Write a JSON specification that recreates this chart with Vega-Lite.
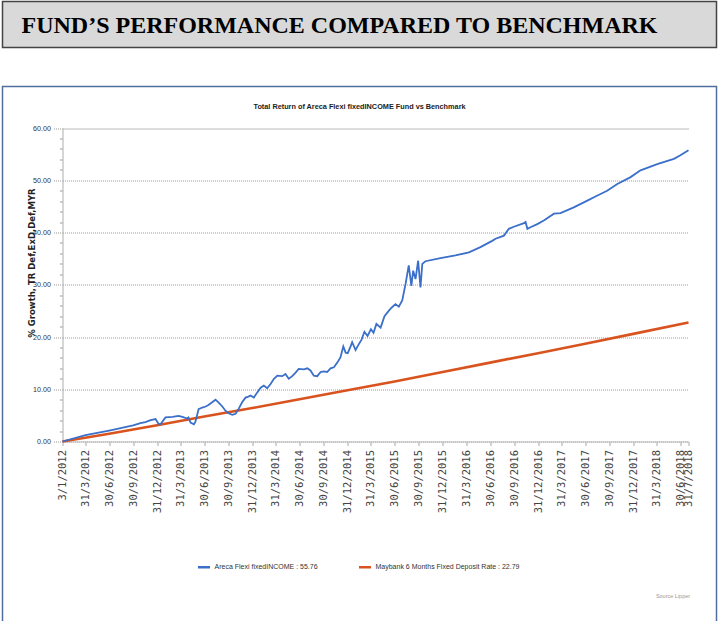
{
  "$schema": "https://vega.github.io/schema/vega-lite/v6.json",
  "background": "white",
  "padding": {"left": 1.5, "top": 0.5, "right": 0, "bottom": 0},
  "spacing": 37,
  "vconcat": [
    {
      "width": 714,
      "height": 46,
      "view": {"fill": "#d9d9d9", "stroke": "#444444", "strokeWidth": 1.5},
      "data": {"values": [{"heading": "FUND’S PERFORMANCE COMPARED TO BENCHMARK"}]},
      "mark": {"type": "text", "font": "Liberation Serif", "fontWeight": "bold", "fontSize": 24, "color": "#000000", "dx": -20, "dy": 1},
      "encoding": {"text": {"field": "heading", "type": "nominal"}}
    },
    {
      "width": 714,
      "height": 545,
      "view": {"fill": "white", "stroke": "#4f6fa0", "strokeWidth": 1.5},
      "title": {
        "text": "Total Return of Areca Flexi fixedINCOME Fund vs Benchmark",
        "offset": -30,
        "baseline": "alphabetic",
        "anchor": "middle",
        "frame": "group",
        "font": "Liberation Sans",
        "fontSize": 7.3,
        "fontWeight": "bold",
        "color": "#222222"
      },
      "data": {
        "values": [
          {"date": "2012-01-03", "value": 0, "series": "Maybank 6 Months Fixed Deposit Rate : 22.79"},
          {"date": "2012-06-30", "value": 1.5, "series": "Maybank 6 Months Fixed Deposit Rate : 22.79"},
          {"date": "2012-12-31", "value": 3.1, "series": "Maybank 6 Months Fixed Deposit Rate : 22.79"},
          {"date": "2013-06-30", "value": 4.8, "series": "Maybank 6 Months Fixed Deposit Rate : 22.79"},
          {"date": "2013-12-31", "value": 6.4, "series": "Maybank 6 Months Fixed Deposit Rate : 22.79"},
          {"date": "2014-06-30", "value": 8.1, "series": "Maybank 6 Months Fixed Deposit Rate : 22.79"},
          {"date": "2014-12-31", "value": 9.8, "series": "Maybank 6 Months Fixed Deposit Rate : 22.79"},
          {"date": "2015-06-30", "value": 11.5, "series": "Maybank 6 Months Fixed Deposit Rate : 22.79"},
          {"date": "2015-12-31", "value": 13.3, "series": "Maybank 6 Months Fixed Deposit Rate : 22.79"},
          {"date": "2016-06-30", "value": 15.1, "series": "Maybank 6 Months Fixed Deposit Rate : 22.79"},
          {"date": "2016-12-31", "value": 16.9, "series": "Maybank 6 Months Fixed Deposit Rate : 22.79"},
          {"date": "2017-06-30", "value": 18.7, "series": "Maybank 6 Months Fixed Deposit Rate : 22.79"},
          {"date": "2017-12-31", "value": 20.6, "series": "Maybank 6 Months Fixed Deposit Rate : 22.79"},
          {"date": "2018-07-31", "value": 22.79, "series": "Maybank 6 Months Fixed Deposit Rate : 22.79"},
          {"date": "2012-01-03", "value": 0, "series": "Areca Flexi fixedINCOME : 55.76"},
          {"date": "2012-03-31", "value": 1.2, "series": "Areca Flexi fixedINCOME : 55.76"},
          {"date": "2012-06-30", "value": 2.1, "series": "Areca Flexi fixedINCOME : 55.76"},
          {"date": "2012-09-30", "value": 3.1, "series": "Areca Flexi fixedINCOME : 55.76"},
          {"date": "2012-10-28", "value": 3.5, "series": "Areca Flexi fixedINCOME : 55.76"},
          {"date": "2012-11-16", "value": 3.7, "series": "Areca Flexi fixedINCOME : 55.76"},
          {"date": "2012-12-06", "value": 4.1, "series": "Areca Flexi fixedINCOME : 55.76"},
          {"date": "2012-12-25", "value": 4.3, "series": "Areca Flexi fixedINCOME : 55.76"},
          {"date": "2013-01-05", "value": 3.4, "series": "Areca Flexi fixedINCOME : 55.76"},
          {"date": "2013-01-13", "value": 3.3, "series": "Areca Flexi fixedINCOME : 55.76"},
          {"date": "2013-02-01", "value": 4.6, "series": "Areca Flexi fixedINCOME : 55.76"},
          {"date": "2013-02-28", "value": 4.7, "series": "Areca Flexi fixedINCOME : 55.76"},
          {"date": "2013-03-23", "value": 4.9, "series": "Areca Flexi fixedINCOME : 55.76"},
          {"date": "2013-04-07", "value": 4.7, "series": "Areca Flexi fixedINCOME : 55.76"},
          {"date": "2013-04-25", "value": 4.4, "series": "Areca Flexi fixedINCOME : 55.76"},
          {"date": "2013-04-30", "value": 4.6, "series": "Areca Flexi fixedINCOME : 55.76"},
          {"date": "2013-05-08", "value": 3.6, "series": "Areca Flexi fixedINCOME : 55.76"},
          {"date": "2013-05-21", "value": 3.3, "series": "Areca Flexi fixedINCOME : 55.76"},
          {"date": "2013-05-27", "value": 3.8, "series": "Areca Flexi fixedINCOME : 55.76"},
          {"date": "2013-06-08", "value": 6.2, "series": "Areca Flexi fixedINCOME : 55.76"},
          {"date": "2013-06-22", "value": 6.5, "series": "Areca Flexi fixedINCOME : 55.76"},
          {"date": "2013-07-05", "value": 6.7, "series": "Areca Flexi fixedINCOME : 55.76"},
          {"date": "2013-07-16", "value": 7.0, "series": "Areca Flexi fixedINCOME : 55.76"},
          {"date": "2013-07-30", "value": 7.5, "series": "Areca Flexi fixedINCOME : 55.76"},
          {"date": "2013-08-12", "value": 8.0, "series": "Areca Flexi fixedINCOME : 55.76"},
          {"date": "2013-08-23", "value": 7.5, "series": "Areca Flexi fixedINCOME : 55.76"},
          {"date": "2013-09-07", "value": 6.7, "series": "Areca Flexi fixedINCOME : 55.76"},
          {"date": "2013-09-19", "value": 5.9, "series": "Areca Flexi fixedINCOME : 55.76"},
          {"date": "2013-10-01", "value": 5.4, "series": "Areca Flexi fixedINCOME : 55.76"},
          {"date": "2013-10-15", "value": 5.1, "series": "Areca Flexi fixedINCOME : 55.76"},
          {"date": "2013-10-28", "value": 5.3, "series": "Areca Flexi fixedINCOME : 55.76"},
          {"date": "2013-11-08", "value": 6.2, "series": "Areca Flexi fixedINCOME : 55.76"},
          {"date": "2013-11-22", "value": 7.5, "series": "Areca Flexi fixedINCOME : 55.76"},
          {"date": "2013-12-05", "value": 8.4, "series": "Areca Flexi fixedINCOME : 55.76"},
          {"date": "2013-12-16", "value": 8.6, "series": "Areca Flexi fixedINCOME : 55.76"},
          {"date": "2013-12-24", "value": 8.8, "series": "Areca Flexi fixedINCOME : 55.76"},
          {"date": "2014-01-06", "value": 8.4, "series": "Areca Flexi fixedINCOME : 55.76"},
          {"date": "2014-01-19", "value": 9.4, "series": "Areca Flexi fixedINCOME : 55.76"},
          {"date": "2014-02-01", "value": 10.3, "series": "Areca Flexi fixedINCOME : 55.76"},
          {"date": "2014-02-13", "value": 10.7, "series": "Areca Flexi fixedINCOME : 55.76"},
          {"date": "2014-02-26", "value": 10.2, "series": "Areca Flexi fixedINCOME : 55.76"},
          {"date": "2014-03-11", "value": 11.0, "series": "Areca Flexi fixedINCOME : 55.76"},
          {"date": "2014-03-24", "value": 12.0, "series": "Areca Flexi fixedINCOME : 55.76"},
          {"date": "2014-04-06", "value": 12.6, "series": "Areca Flexi fixedINCOME : 55.76"},
          {"date": "2014-04-25", "value": 12.5, "series": "Areca Flexi fixedINCOME : 55.76"},
          {"date": "2014-05-07", "value": 12.9, "series": "Areca Flexi fixedINCOME : 55.76"},
          {"date": "2014-05-20", "value": 12.0, "series": "Areca Flexi fixedINCOME : 55.76"},
          {"date": "2014-06-02", "value": 12.5, "series": "Areca Flexi fixedINCOME : 55.76"},
          {"date": "2014-06-15", "value": 13.2, "series": "Areca Flexi fixedINCOME : 55.76"},
          {"date": "2014-06-27", "value": 13.9, "series": "Areca Flexi fixedINCOME : 55.76"},
          {"date": "2014-07-17", "value": 13.8, "series": "Areca Flexi fixedINCOME : 55.76"},
          {"date": "2014-07-30", "value": 14.0, "series": "Areca Flexi fixedINCOME : 55.76"},
          {"date": "2014-08-11", "value": 13.6, "series": "Areca Flexi fixedINCOME : 55.76"},
          {"date": "2014-08-24", "value": 12.6, "series": "Areca Flexi fixedINCOME : 55.76"},
          {"date": "2014-09-06", "value": 12.5, "series": "Areca Flexi fixedINCOME : 55.76"},
          {"date": "2014-09-19", "value": 13.3, "series": "Areca Flexi fixedINCOME : 55.76"},
          {"date": "2014-10-01", "value": 13.4, "series": "Areca Flexi fixedINCOME : 55.76"},
          {"date": "2014-10-14", "value": 13.3, "series": "Areca Flexi fixedINCOME : 55.76"},
          {"date": "2014-10-27", "value": 14.0, "series": "Areca Flexi fixedINCOME : 55.76"},
          {"date": "2014-11-09", "value": 14.2, "series": "Areca Flexi fixedINCOME : 55.76"},
          {"date": "2014-11-22", "value": 15.1, "series": "Areca Flexi fixedINCOME : 55.76"},
          {"date": "2014-12-04", "value": 16.1, "series": "Areca Flexi fixedINCOME : 55.76"},
          {"date": "2014-12-15", "value": 18.2, "series": "Areca Flexi fixedINCOME : 55.76"},
          {"date": "2014-12-24", "value": 17.0, "series": "Areca Flexi fixedINCOME : 55.76"},
          {"date": "2015-01-01", "value": 16.9, "series": "Areca Flexi fixedINCOME : 55.76"},
          {"date": "2015-01-12", "value": 18.2, "series": "Areca Flexi fixedINCOME : 55.76"},
          {"date": "2015-01-18", "value": 19.0, "series": "Areca Flexi fixedINCOME : 55.76"},
          {"date": "2015-01-31", "value": 17.5, "series": "Areca Flexi fixedINCOME : 55.76"},
          {"date": "2015-02-11", "value": 18.5, "series": "Areca Flexi fixedINCOME : 55.76"},
          {"date": "2015-02-23", "value": 19.5, "series": "Areca Flexi fixedINCOME : 55.76"},
          {"date": "2015-03-06", "value": 21.0, "series": "Areca Flexi fixedINCOME : 55.76"},
          {"date": "2015-03-18", "value": 20.2, "series": "Areca Flexi fixedINCOME : 55.76"},
          {"date": "2015-03-31", "value": 21.5, "series": "Areca Flexi fixedINCOME : 55.76"},
          {"date": "2015-04-10", "value": 20.8, "series": "Areca Flexi fixedINCOME : 55.76"},
          {"date": "2015-04-21", "value": 22.5, "series": "Areca Flexi fixedINCOME : 55.76"},
          {"date": "2015-05-07", "value": 21.8, "series": "Areca Flexi fixedINCOME : 55.76"},
          {"date": "2015-05-22", "value": 24.0, "series": "Areca Flexi fixedINCOME : 55.76"},
          {"date": "2015-06-07", "value": 25.0, "series": "Areca Flexi fixedINCOME : 55.76"},
          {"date": "2015-06-18", "value": 25.6, "series": "Areca Flexi fixedINCOME : 55.76"},
          {"date": "2015-07-03", "value": 26.3, "series": "Areca Flexi fixedINCOME : 55.76"},
          {"date": "2015-07-16", "value": 25.8, "series": "Areca Flexi fixedINCOME : 55.76"},
          {"date": "2015-07-29", "value": 27.0, "series": "Areca Flexi fixedINCOME : 55.76"},
          {"date": "2015-08-11", "value": 30.2, "series": "Areca Flexi fixedINCOME : 55.76"},
          {"date": "2015-08-23", "value": 33.7, "series": "Areca Flexi fixedINCOME : 55.76"},
          {"date": "2015-09-02", "value": 29.8, "series": "Areca Flexi fixedINCOME : 55.76"},
          {"date": "2015-09-09", "value": 32.7, "series": "Areca Flexi fixedINCOME : 55.76"},
          {"date": "2015-09-18", "value": 31.1, "series": "Areca Flexi fixedINCOME : 55.76"},
          {"date": "2015-09-28", "value": 34.6, "series": "Areca Flexi fixedINCOME : 55.76"},
          {"date": "2015-10-07", "value": 29.5, "series": "Areca Flexi fixedINCOME : 55.76"},
          {"date": "2015-10-14", "value": 34.0, "series": "Areca Flexi fixedINCOME : 55.76"},
          {"date": "2015-10-26", "value": 34.5, "series": "Areca Flexi fixedINCOME : 55.76"},
          {"date": "2015-12-23", "value": 35.1, "series": "Areca Flexi fixedINCOME : 55.76"},
          {"date": "2016-02-18", "value": 35.6, "series": "Areca Flexi fixedINCOME : 55.76"},
          {"date": "2016-04-10", "value": 36.2, "series": "Areca Flexi fixedINCOME : 55.76"},
          {"date": "2016-05-24", "value": 37.2, "series": "Areca Flexi fixedINCOME : 55.76"},
          {"date": "2016-07-08", "value": 38.4, "series": "Areca Flexi fixedINCOME : 55.76"},
          {"date": "2016-07-21", "value": 38.8, "series": "Areca Flexi fixedINCOME : 55.76"},
          {"date": "2016-08-22", "value": 39.4, "series": "Areca Flexi fixedINCOME : 55.76"},
          {"date": "2016-09-10", "value": 40.7, "series": "Areca Flexi fixedINCOME : 55.76"},
          {"date": "2016-09-29", "value": 41.1, "series": "Areca Flexi fixedINCOME : 55.76"},
          {"date": "2016-11-07", "value": 41.8, "series": "Areca Flexi fixedINCOME : 55.76"},
          {"date": "2016-11-13", "value": 42.0, "series": "Areca Flexi fixedINCOME : 55.76"},
          {"date": "2016-11-20", "value": 40.7, "series": "Areca Flexi fixedINCOME : 55.76"},
          {"date": "2016-12-02", "value": 41.0, "series": "Areca Flexi fixedINCOME : 55.76"},
          {"date": "2016-12-28", "value": 41.6, "series": "Areca Flexi fixedINCOME : 55.76"},
          {"date": "2017-01-22", "value": 42.3, "series": "Areca Flexi fixedINCOME : 55.76"},
          {"date": "2017-03-02", "value": 43.6, "series": "Areca Flexi fixedINCOME : 55.76"},
          {"date": "2017-03-27", "value": 43.7, "series": "Areca Flexi fixedINCOME : 55.76"},
          {"date": "2017-05-17", "value": 44.8, "series": "Areca Flexi fixedINCOME : 55.76"},
          {"date": "2017-07-08", "value": 46.1, "series": "Areca Flexi fixedINCOME : 55.76"},
          {"date": "2017-08-12", "value": 47.0, "series": "Areca Flexi fixedINCOME : 55.76"},
          {"date": "2017-09-22", "value": 48.0, "series": "Areca Flexi fixedINCOME : 55.76"},
          {"date": "2017-10-31", "value": 49.3, "series": "Areca Flexi fixedINCOME : 55.76"},
          {"date": "2017-12-21", "value": 50.6, "series": "Areca Flexi fixedINCOME : 55.76"},
          {"date": "2018-01-28", "value": 51.9, "series": "Areca Flexi fixedINCOME : 55.76"},
          {"date": "2018-04-02", "value": 53.1, "series": "Areca Flexi fixedINCOME : 55.76"},
          {"date": "2018-06-05", "value": 54.1, "series": "Areca Flexi fixedINCOME : 55.76"},
          {"date": "2018-06-30", "value": 54.8, "series": "Areca Flexi fixedINCOME : 55.76"},
          {"date": "2018-07-31", "value": 55.76, "series": "Areca Flexi fixedINCOME : 55.76"}
        ]
      },
      "encoding": {
        "x": {
          "field": "date",
          "type": "temporal",
          "scale": {
            "type": "utc",
            "domain": [{"year": 2012, "month": 1, "date": 3, "utc": true}, {"year": 2018, "month": 7, "date": 31, "utc": true}],
            "range": [60, 686],
            "nice": false
          },
          "axis": {
            "title": "Source Lipper",
            "titleX": 670,
            "titleY": 154,
            "titleAlign": "center",
            "titleBaseline": "middle",
            "titleFont": "Liberation Sans",
            "titleFontSize": 5.5,
            "titleFontWeight": "normal",
            "titleColor": "#999999",
            "offset": -190,
            "values": [
              {"year": 2012, "month": 1, "date": 3, "utc": true},
              {"year": 2012, "month": 3, "date": 31, "utc": true},
              {"year": 2012, "month": 6, "date": 30, "utc": true},
              {"year": 2012, "month": 9, "date": 30, "utc": true},
              {"year": 2012, "month": 12, "date": 31, "utc": true},
              {"year": 2013, "month": 3, "date": 31, "utc": true},
              {"year": 2013, "month": 6, "date": 30, "utc": true},
              {"year": 2013, "month": 9, "date": 30, "utc": true},
              {"year": 2013, "month": 12, "date": 31, "utc": true},
              {"year": 2014, "month": 3, "date": 31, "utc": true},
              {"year": 2014, "month": 6, "date": 30, "utc": true},
              {"year": 2014, "month": 9, "date": 30, "utc": true},
              {"year": 2014, "month": 12, "date": 31, "utc": true},
              {"year": 2015, "month": 3, "date": 31, "utc": true},
              {"year": 2015, "month": 6, "date": 30, "utc": true},
              {"year": 2015, "month": 9, "date": 30, "utc": true},
              {"year": 2015, "month": 12, "date": 31, "utc": true},
              {"year": 2016, "month": 3, "date": 31, "utc": true},
              {"year": 2016, "month": 6, "date": 30, "utc": true},
              {"year": 2016, "month": 9, "date": 30, "utc": true},
              {"year": 2016, "month": 12, "date": 31, "utc": true},
              {"year": 2017, "month": 3, "date": 31, "utc": true},
              {"year": 2017, "month": 6, "date": 30, "utc": true},
              {"year": 2017, "month": 9, "date": 30, "utc": true},
              {"year": 2017, "month": 12, "date": 31, "utc": true},
              {"year": 2018, "month": 3, "date": 31, "utc": true},
              {"year": 2018, "month": 6, "date": 30, "utc": true},
              {"year": 2018, "month": 7, "date": 31, "utc": true}
            ],
            "format": "%-d/%-m/%Y",
            "labelAngle": 270,
            "labelAlign": "right",
            "labelBaseline": "middle",
            "labelFont": "DejaVu Sans Mono",
            "labelFontSize": 10.5,
            "labelColor": "#444444",
            "labelPadding": 4,
            "labelOverlap": false,
            "labelFlush": false,
            "labelBound": false,
            "tickSize": 4,
            "tickColor": "#aaaaaa",
            "domainColor": "#bbbbbb",
            "domainWidth": 1.2,
            "grid": false
          }
        },
        "y": {
          "field": "value",
          "type": "quantitative",
          "scale": {"domain": [0, 60], "range": [355, 41.5], "nice": false, "zero": false},
          "axis": {
            "title": "% Growth, TR Def,ExD,Def,MYR",
            "titleFont": "DejaVu Sans",
            "titleFontSize": 8.5,
            "titleFontWeight": "bold",
            "titleColor": "#222222",
            "titleAngle": 270,
            "titleAlign": "center",
            "titleBaseline": "middle",
            "titleX": -31,
            "titleY": 176,
            "offset": -60,
            "values": [0, 2, 4, 6, 8, 10, 12, 14, 16, 18, 20, 22, 24, 26, 28, 30, 32, 34, 36, 38, 40, 42, 44, 46, 48, 50, 52, 54, 56, 58, 60],
            "labelExpr": "datum.value % 10 === 0 ? format(datum.value, '.2f') : ''",
            "labelFont": "Liberation Sans",
            "labelFontSize": 7.2,
            "labelColor": "#333333",
            "labelPadding": 2,
            "labelOverlap": false,
            "labelFlush": false,
            "labelBound": false,
            "tickSize": {"condition": {"test": "datum.value % 10 === 0", "value": 10}, "value": 3},
            "tickDash": {"condition": {"test": "datum.value % 10 === 0", "value": [1, 1]}, "value": []},
            "tickColor": "#999999",
            "domainColor": "#bbbbbb",
            "domainWidth": 1.2,
            "grid": true,
            "gridOpacity": {"condition": {"test": "datum.value % 10 === 0", "value": 1}, "value": 0},
            "gridDash": {"condition": {"test": "datum.value === 60", "value": []}, "value": [1, 1]},
            "gridColor": {"condition": {"test": "datum.value === 60", "value": "#bbbbbb"}, "value": "#9a9a9a"},
            "gridWidth": 1
          }
        },
        "color": {
          "field": "series",
          "type": "nominal",
          "scale": {
            "domain": ["Areca Flexi fixedINCOME : 55.76", "Maybank 6 Months Fixed Deposit Rate : 22.79"],
            "range": ["#3b6fca", "#d9531e"]
          },
          "legend": {
            "title": null,
            "orient": "none",
            "legendX": 194,
            "legendY": 558,
            "direction": "horizontal",
            "columns": 2,
            "columnPadding": 35,
            "padding": 0,
            "symbolType": "stroke",
            "symbolSize": 144,
            "symbolStrokeWidth": 2.5,
            "labelFont": "Liberation Sans",
            "labelFontSize": 7,
            "labelColor": "#333333",
            "labelOffset": 3,
            "labelLimit": 0
          }
        }
      },
      "layer": [
        {
          "data": {
            "values": [
              {"date": "2012-03-31"}, {"date": "2012-06-30"}, {"date": "2012-09-30"}, {"date": "2012-12-31"},
              {"date": "2013-03-31"}, {"date": "2013-06-30"}, {"date": "2013-09-30"}, {"date": "2013-12-31"},
              {"date": "2014-03-31"}, {"date": "2014-06-30"}, {"date": "2014-09-30"}, {"date": "2014-12-31"},
              {"date": "2015-03-31"}, {"date": "2015-06-30"}, {"date": "2015-09-30"}, {"date": "2015-12-31"},
              {"date": "2016-03-31"}, {"date": "2016-06-30"}, {"date": "2016-09-30"}, {"date": "2016-12-31"},
              {"date": "2017-03-31"}, {"date": "2017-06-30"}, {"date": "2017-09-30"}, {"date": "2017-12-31"},
              {"date": "2018-03-31"}, {"date": "2018-06-30"}, {"date": "2018-07-31"}
            ]
          },
          "mark": {"type": "rule", "strokeWidth": 1.2},
          "encoding": {
            "y": {"datum": 0},
            "y2": {"datum": 60},
            "color": {"value": "#dcdcdc"}
          }
        },
        {
          "transform": [{"filter": "datum.series === 'Maybank 6 Months Fixed Deposit Rate : 22.79'"}],
          "mark": {"type": "line", "strokeWidth": 2.6}
        },
        {
          "transform": [{"filter": "datum.series === 'Areca Flexi fixedINCOME : 55.76'"}],
          "mark": {"type": "line", "strokeWidth": 1.8}
        }
      ]
    }
  ]
}
